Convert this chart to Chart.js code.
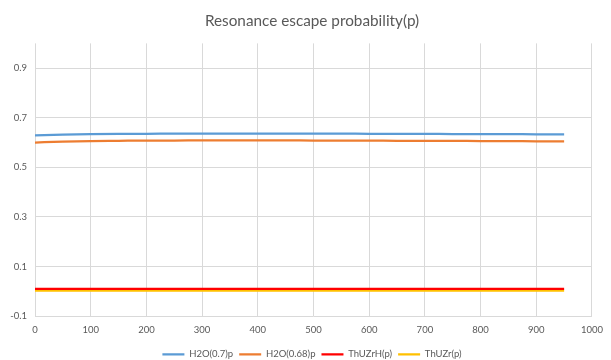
<!DOCTYPE html>
<html>
<head>
<meta charset="utf-8">
<script src="https://cdn.jsdelivr.net/npm/chart.js@4"></script>
<style>
  html, body { margin: 0; padding: 0; background: #ffffff; }
  #wrap { width: 611px; height: 360px; }
</style>
</head>
<body>
<div id="wrap"><canvas id="c" width="611" height="360"></canvas></div>
<script>
// Temperature / burnup points along the x axis
const xValues = [0, 50, 100, 150, 200, 250, 300, 350, 400, 450, 500, 550, 600, 650, 700, 750, 800, 850, 900, 950];

// Resonance escape probability for each fuel / moderator case
const h2o07 = [0.629, 0.632, 0.634, 0.635, 0.635, 0.636, 0.636, 0.636, 0.636, 0.636, 0.636, 0.636, 0.635, 0.635, 0.635, 0.634, 0.634, 0.634, 0.633, 0.633];
const h2o068 = [0.600, 0.604, 0.606, 0.607, 0.608, 0.608, 0.609, 0.609, 0.609, 0.609, 0.608, 0.608, 0.608, 0.607, 0.607, 0.607, 0.606, 0.606, 0.605, 0.605];
const thuzrh = [0.010, 0.010, 0.010, 0.010, 0.010, 0.010, 0.010, 0.010, 0.010, 0.010, 0.010, 0.010, 0.010, 0.010, 0.010, 0.010, 0.010, 0.010, 0.010, 0.010];
const thuzr = [0.003, 0.003, 0.003, 0.003, 0.003, 0.003, 0.003, 0.003, 0.003, 0.003, 0.003, 0.003, 0.003, 0.003, 0.003, 0.003, 0.003, 0.003, 0.003, 0.003];

const seriesNames = ['H2O(0.7)p', 'H2O(0.68)p', 'ThUZrH(p)', 'ThUZr(p)'];
const yTicks = [-0.1, 0.1, 0.3, 0.5, 0.7, 0.9];
const xTicks = [0, 100, 200, 300, 400, 500, 600, 700, 800, 900, 1000];

const FONT = 'Lato, "Open Sans", sans-serif';
const TEXT = '#595959';
const GRID = '#d9d9d9';

const toPoints = arr => arr.map((y, i) => ({ x: xValues[i], y }));

function series(label, data, color) {
  return {
    label,
    data: toPoints(data),
    borderColor: color,
    backgroundColor: color,
    borderWidth: 2.25,
    pointRadius: 0,
    tension: 0.4,
    cubicInterpolationMode: 'monotone',
    fill: false
  };
}

// Centre the title and legend over the whole canvas area right of the y labels
const centerBlocks = {
  id: 'centerBlocks',
  afterLayout(chart) {
    [chart.titleBlock, chart.legend].forEach(b => {
      if (!b) return;
      b.left = 27;
      b.width = b.right - b.left;
    });
  }
};

new Chart(document.getElementById('c'), {
  type: 'line',
  data: {
    datasets: [
      series(seriesNames[0], h2o07, '#5b9bd5'),
      series(seriesNames[1], h2o068, '#ed7d31'),
      series(seriesNames[2], thuzrh, '#ff0000'),
      series(seriesNames[3], thuzr, '#ffc000')
    ]
  },
  plugins: [centerBlocks],
  options: {
    responsive: false,
    animation: false,
    events: [],
    layout: { padding: { left: 0, right: 14, top: 8, bottom: -9 } },
    plugins: {
      title: {
        display: true,
        text: 'Resonance escape probability(p)',
        color: TEXT,
        font: { family: FONT, size: 15.3, weight: 'normal' },
        padding: { top: 4, bottom: 13 }
      },
      legend: {
        position: 'bottom',
        labels: {
          usePointStyle: true,
          pointStyle: 'line',
          pointStyleWidth: 22,
          boxHeight: 9,
          color: TEXT,
          font: { family: FONT, size: 9.5 },
          padding: 6
        }
      },
      tooltip: { enabled: false }
    },
    scales: {
      x: {
        type: 'linear',
        min: 0,
        max: 1000,
        afterBuildTicks: s => { s.ticks = xTicks.map(v => ({ value: v })); },
        grid: { color: GRID, lineWidth: 1, drawTicks: false },
        border: { display: false },
        ticks: {
          color: TEXT,
          font: { family: FONT, size: 9.5 },
          padding: 8,
          maxRotation: 0,
          callback: v => String(v)
        }
      },
      y: {
        type: 'linear',
        min: -0.1,
        max: 1.0,
        afterBuildTicks: s => { s.ticks = yTicks.map(v => ({ value: v })); },
        afterFit: s => { s.width = 35; },
        grid: { color: GRID, lineWidth: 1, drawTicks: false },
        border: { display: false },
        ticks: {
          color: TEXT,
          font: { family: FONT, size: 9.5 },
          padding: 8,
          callback: v => String(Math.round(v * 10) / 10)
        }
      }
    }
  }
});
</script>
</body>
</html>
